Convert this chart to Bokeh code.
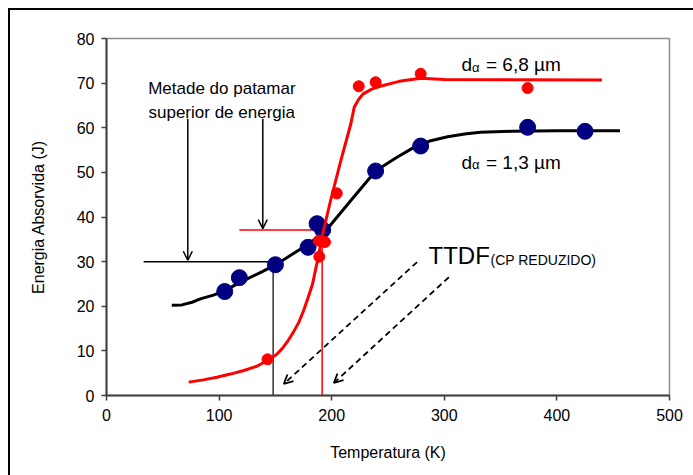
from bokeh.plotting import figure
from bokeh.models import Arrow, OpenHead, Label, FixedTicker
from bokeh.embed import file_html
from bokeh.resources import INLINE

# ---- data ----
# d_alpha = 1,3 um (navy points)
temp_13 = [105, 118, 150, 179, 187, 192, 239, 279, 374, 425]
energy_13 = [23.3, 26.4, 29.3, 33.2, 38.5, 37.1, 50.3, 55.9, 60.1, 59.2]
# d_alpha = 6,8 um (red points)
temp_68 = [143, 188.5, 189, 194, 204.5, 224, 239, 279, 374]
energy_68 = [8.1, 34.7, 31.1, 34.4, 45.3, 69.3, 70.2, 72.1, 68.9]

# fitted curves
curve_t_13 = [58, 67, 76, 84, 95, 105, 119, 137, 151, 166, 180, 196, 217, 239, 250, 258, 273, 288, 303, 318, 332, 360, 400, 456]
curve_e_13 = [20.2, 20.3, 20.9, 21.7, 22.5, 23.5, 25.4, 27.6, 29.4, 31.8, 34.0, 37.3, 43.7, 50.3, 52.1, 53.4, 55.6, 57.1, 58.0, 58.6, 59.0, 59.2, 59.3, 59.3]
curve_t_68 = [73, 86, 98, 110, 122, 134, 144, 151, 156, 161, 166, 171, 175, 179, 183, 188, 192, 199, 208, 217, 220, 224, 228, 236, 243, 260, 279, 300, 440]
curve_e_68 = [3.0, 3.5, 4.1, 4.8, 5.6, 6.6, 8.0, 9.2, 10.5, 12.2, 14.2, 16.5, 19.0, 21.9, 25.0, 31.0, 36.2, 43.7, 52.5, 60.9, 64.6, 66.4, 67.6, 68.7, 69.3, 70.4, 71.1, 70.8, 70.7]

# half upper-shelf reference levels
half_13 = {"t_from": 33, "t": 148, "e": 30.0}
half_68 = {"t_from": 118, "t": 191.5, "e": 37.1}

x_ticks = [0, 100, 200, 300, 400, 500]
y_ticks = [0, 10, 20, 30, 40, 50, 60, 70, 80]

FONT = "Liberation Sans"

p = figure(width=685, height=467, x_range=(0, 500), y_range=(0, 80),
           output_backend="svg", toolbar_location=None,
           min_border_left=96, min_border_right=26, min_border_top=28, min_border_bottom=82)
p.styles = {"margin-left": "8px", "margin-top": "8px",
            "border-left": "2px solid black", "border-top": "2px solid black",
            "box-sizing": "border-box"}
p.xgrid.visible = False
p.ygrid.visible = False
p.outline_line_color = "#8c8c8c"
p.outline_line_width = 1.5
p.background_fill_color = "white"

for ax in (p.xaxis[0], p.yaxis[0]):
    ax.axis_line_color = "#404040"
    ax.axis_line_width = 2
    ax.major_tick_line_color = "#404040"
    ax.major_tick_line_width = 1.5
    ax.major_tick_in = 0
    ax.major_tick_out = 5
    ax.minor_tick_line_color = None
    ax.major_label_text_font = FONT
    ax.major_label_text_font_size = "16px"
    ax.major_label_text_color = "black"
    ax.axis_label_text_font = FONT
    ax.axis_label_text_font_size = "16px"
    ax.axis_label_text_font_style = "normal"
    ax.axis_label_text_color = "black"

p.xaxis.ticker = FixedTicker(ticks=x_ticks)
p.yaxis.ticker = FixedTicker(ticks=y_ticks)
p.xaxis.axis_label = "Temperatura (K)"
p.yaxis.axis_label = "Energia Absorvida (J)"
p.xaxis.major_label_standoff = 8
p.yaxis.major_label_standoff = 7
p.xaxis.axis_label_standoff = 20
p.yaxis.axis_label_standoff = 27

# reference lines
p.line([half_13["t_from"], half_13["t"]], [half_13["e"], half_13["e"]], line_color="black", line_width=1.5)
p.line([half_13["t"], half_13["t"]], [0, half_13["e"]], line_color="#333333", line_width=1.5)
p.line([half_68["t_from"], half_68["t"]], [half_68["e"], half_68["e"]], line_color="red", line_width=1.5)
p.line([half_68["t"], half_68["t"]], [0, half_68["e"]], line_color="red", line_width=1.5)

# curves and points
p.line(curve_t_13, curve_e_13, line_color="black", line_width=3, line_join="round")
p.scatter(temp_13, energy_13, size=16, fill_color="#000080", line_color="#000080")
p.line(curve_t_68, curve_e_68, line_color="red", line_width=3, line_join="round")
p.scatter(temp_68, energy_68, size=11, fill_color="red", line_color="red")

# solid arrows
for xs, ys, xe, ye in [(72.2, 62.0, 72.2, 30.3), (138.8, 62.0, 138.8, 37.4)]:
    p.add_layout(Arrow(end=OpenHead(size=9, line_width=1.5, line_color="black"),
                       x_start=xs, y_start=ys, x_end=xe, y_end=ye,
                       line_color="black", line_width=1.5))
# dashed arrows
for xs, ys, xe, ye in [(275.8, 29.9, 157.5, 2.6), (304.0, 26.5, 201.9, 2.8)]:
    p.add_layout(Arrow(end=OpenHead(size=9, line_width=1.8, line_color="black"),
                       x_start=xs, y_start=ys, x_end=xe, y_end=ye,
                       line_color="black", line_width=1.8, line_dash="6 4"))

def lab(x, y, text, size, **kw):
    p.add_layout(Label(x=x, y=y, text=text, text_font=FONT, text_font_size=size,
                       text_align="left", text_baseline="alphabetic", text_color="black", **kw))

lab(37.0, 68.8, "Metade do patamar", "17px")
lab(37.3, 63.5, "superior de energia", "17px")

lab(315.2, 74.2, "d", "19px")
lab(324.6, 73.6, "\u03b1", "13px")
lab(337.0, 74.2, "= 6,8 \u00b5m", "19px")

lab(315.2, 52.3, "d", "19px")
lab(324.6, 51.7, "\u03b1", "13px")
lab(337.0, 52.3, "= 1,3 \u00b5m", "19px")

lab(286.0, 31.4, "TTDF", "24px")
lab(341.0, 30.4, "(CP REDUZIDO)", "14px")

open("out.html", "w").write(file_html(p, INLINE))
